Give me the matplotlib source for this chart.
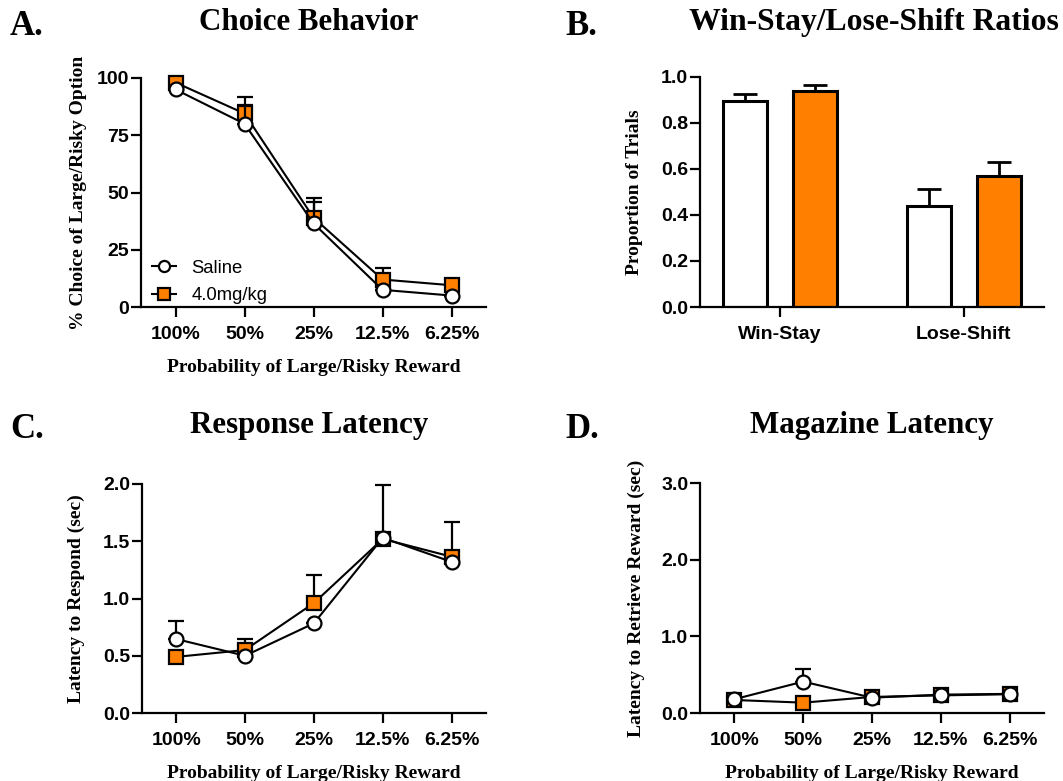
import matplotlib
matplotlib.use("Agg")
import matplotlib.pyplot as plt
from matplotlib.lines import Line2D
import numpy as np

# ---------------- data ----------------
prob_labels = ["100%", "50%", "25%", "12.5%", "6.25%"]

choice_saline = [95, 80, 36.5, 7.5, 5]
choice_saline_err = [0, 8, 9.5, 0, 0]
choice_drug = [98, 84.5, 39, 12, 9.5]
choice_drug_err = [0, 7, 8.7, 5, 0]

ws_categories = ["Win-Stay", "Lose-Shift"]
ws_saline = [0.893, 0.439]
ws_saline_err = [0.033, 0.074]
ws_drug = [0.936, 0.567]
ws_drug_err = [0.026, 0.062]

resp_saline = [0.646, 0.50, 0.783, 1.53, 1.32]
resp_saline_err = [0.155, 0, 0, 0, 0]
resp_drug = [0.49, 0.55, 0.96, 1.52, 1.365]
resp_drug_err = [0, 0.10, 0.245, 0.47, 0.30]

mag_saline = [0.18, 0.41, 0.20, 0.24, 0.25]
mag_saline_err = [0, 0.16, 0, 0, 0]
mag_drug = [0.17, 0.135, 0.21, 0.23, 0.245]
mag_drug_err = [0, 0, 0, 0, 0]

ORANGE = "#FF8000"
W, H = 1063, 781
SERIF = "Liberation Serif"
SANS = "Liberation Sans"
TICK_FS = 14
LABEL_FS = 14

fig = plt.figure(figsize=(W / 100, H / 100), dpi=100)


def ax_px(left, right, bottom, top):
    return fig.add_axes([left / W, (H - bottom) / H, (right - left) / W, (bottom - top) / H])


def style(ax, yticks, yfmt, ylabel, label_x_px, left_px, width_px):
    for s in ["top", "right"]:
        ax.spines[s].set_visible(False)
    for s in ["left", "bottom"]:
        ax.spines[s].set_linewidth(1.6)
    ax.tick_params(width=1.6, length=7)
    ax.tick_params(axis="y", pad=1.5)
    ax.tick_params(axis="x", pad=7)
    ax.set_yticks(yticks)
    ax.set_yticklabels([yfmt.format(v) for v in yticks], fontfamily=SANS, fontweight="bold", fontsize=TICK_FS)
    ax.set_ylabel(ylabel, fontfamily=SERIF, fontweight="bold", fontsize=LABEL_FS)
    ax.yaxis.set_label_coords((label_x_px - left_px) / width_px, 0.5)


def line_panel(ax, sal, sal_err, drug, drug_err, ylim, yticks, yfmt, ylabel, label_x_px, left_px, width_px,
               legend=False):
    x = np.arange(len(prob_labels))
    ax.errorbar(x, drug, yerr=[np.zeros(len(drug)), drug_err], color="black", lw=1.5, elinewidth=1.6,
                capsize=6, capthick=1.6, marker="s", ms=10.5, mfc=ORANGE, mec="black", mew=1.6,
                clip_on=False, zorder=3)
    ax.errorbar(x, sal, yerr=[np.zeros(len(sal)), sal_err], color="black", lw=1.5, elinewidth=1.6,
                capsize=6, capthick=1.6, marker="o", ms=10, mfc="white", mec="black", mew=1.6,
                clip_on=False, zorder=4)
    ax.set_xlim(-0.5, 4.5)
    ax.set_ylim(*ylim)
    ax.set_xticks(x)
    ax.set_xticklabels(prob_labels, fontfamily=SANS, fontweight="bold", fontsize=TICK_FS)
    ax.set_xlabel("Probability of Large/Risky Reward", fontfamily=SERIF, fontweight="bold", fontsize=LABEL_FS,
                  labelpad=11)
    style(ax, yticks, yfmt, ylabel, label_x_px, left_px, width_px)
    if legend:
        handles = [
            Line2D([], [], color="black", lw=1.5, marker="o", ms=8, mfc="white", mec="black", mew=1.6),
            Line2D([], [], color="black", lw=1.5, marker="s", ms=8, mfc=ORANGE, mec="black", mew=1.6),
        ]
        ax.legend(handles, ["Saline", "4.0mg/kg"], loc="lower left", bbox_to_anchor=(-0.015, -0.06),
                  frameon=False, prop={"family": SANS, "size": 13.3}, handlelength=1.3,
                  handletextpad=0.8, labelspacing=0.55)


# Panel A
axA = ax_px(141, 486, 307, 78)
line_panel(axA, choice_saline, choice_saline_err, choice_drug, choice_drug_err, (0, 100),
           [0, 25, 50, 75, 100], "{:g}", "% Choice of Large/Risky Option", 87, 141, 345, legend=True)

# Panel B
axB = ax_px(700, 1044, 307, 76.7)
gx = np.arange(len(ws_categories))
bw = 0.24
off = 0.19
axB.bar(gx - off, ws_saline, bw, color="white", edgecolor="black", linewidth=2.2, zorder=2)
axB.bar(gx + off, ws_drug, bw, color=ORANGE, edgecolor="black", linewidth=2.2, zorder=2)
axB.errorbar(gx - off, ws_saline, yerr=[np.zeros(2), ws_saline_err], fmt="none", ecolor="black",
             elinewidth=2, capsize=8.5, capthick=2, zorder=1)
axB.errorbar(gx + off, ws_drug, yerr=[np.zeros(2), ws_drug_err], fmt="none", ecolor="black",
             elinewidth=2, capsize=8.5, capthick=2, zorder=1)
axB.set_xlim(-0.435, 1.435)
axB.set_ylim(0, 1.0)
axB.set_xticks(gx)
axB.set_xticklabels(ws_categories, fontfamily=SANS, fontweight="bold", fontsize=TICK_FS)
style(axB, [0, 0.2, 0.4, 0.6, 0.8, 1.0], "{:.1f}", "Proportion of Trials", 643, 700, 344)

# Panel C
axC = ax_px(141.7, 486, 713, 484)
line_panel(axC, resp_saline, resp_saline_err, resp_drug, resp_drug_err, (0, 2.0),
           [0, 0.5, 1.0, 1.5, 2.0], "{:.1f}", "Latency to Respond (sec)", 85, 141.7, 344.3)

# Panel D
axD = ax_px(700, 1044, 713, 483.3)
line_panel(axD, mag_saline, mag_saline_err, mag_drug, mag_drug_err, (0, 3.0),
           [0, 1.0, 2.0, 3.0], "{:.1f}", "Latency to Retrieve Reward (sec)", 645, 700, 344)

# Titles and panel letters
def ftext(xpx, ypx, s, size, ha="left"):
    fig.text(xpx / W, 1 - ypx / H, s, fontfamily=SERIF, fontweight="bold", fontsize=size, ha=ha,
             va="baseline")

ftext(308.5, 30, "Choice Behavior", 22.3, ha="center")
ftext(873.5, 30, "Win-Stay/Lose-Shift Ratios", 22.8, ha="center")
ftext(309, 433, "Response Latency", 22.3, ha="center")
ftext(872, 433, "Magazine Latency", 22.3, ha="center")
ftext(10, 35, "A.", 25)
ftext(565, 35, "B.", 25)
ftext(10, 438, "C.", 25)
ftext(565, 438, "D.", 25)

fig.savefig("out.png", dpi=100)
